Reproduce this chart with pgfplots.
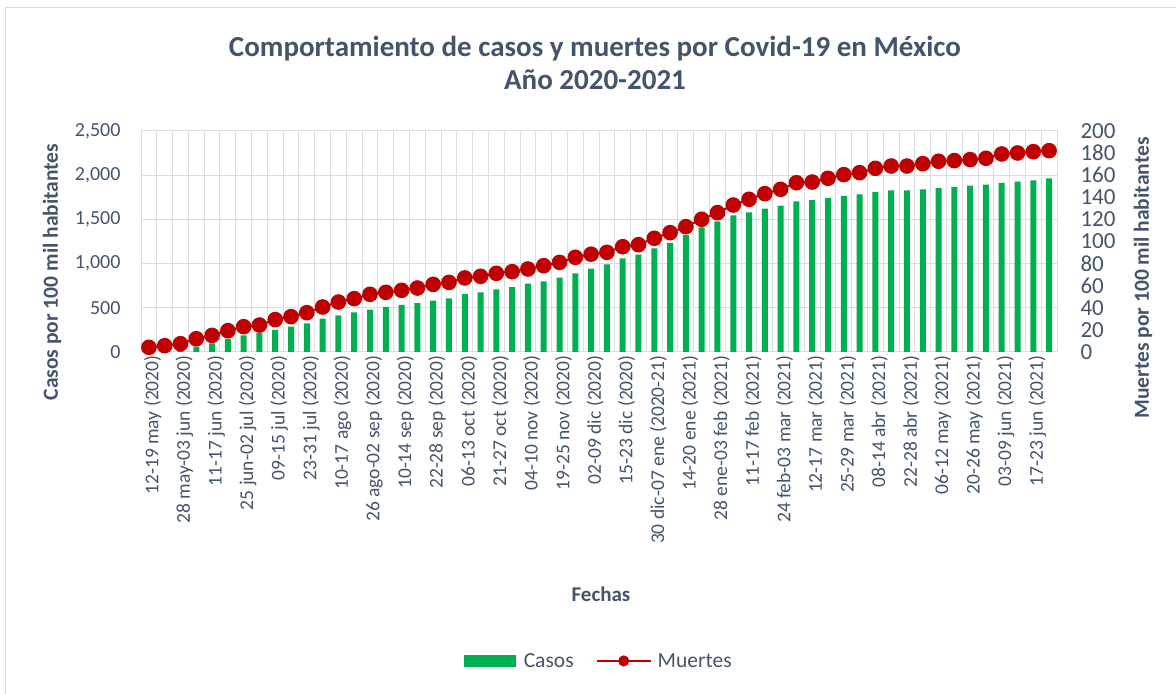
\documentclass[border=0pt]{standalone}
\usepackage{pgfplots}
\usepackage{pgfplotstable}
\pgfplotsset{compat=1.18}
\usepackage{fontspec}
\setmainfont{Carlito}
\definecolor{txt}{HTML}{44546A}
\definecolor{grn}{HTML}{00B050}
\definecolor{dred}{HTML}{C00000}
\definecolor{grd}{HTML}{D9DDE4}
\definecolor{frm}{HTML}{D9D9D9}

\pgfplotstableread{
i c d
0 15 4.2
1 30 5.7
2 45 7.5
3 60 12
4 98 15
5 147 19.3
6 189 22.9
7 215 24.4
8 249 29.3
9 287 32
10 324 35.6
11 377 40.7
12 415 45.2
13 449 48.3
14 479 52.2
15 509 54
16 532 55.8
17 554 57.9
18 581 61.2
19 607 63
20 656 67
21 675 68.5
22 709 71.2
23 735 72.7
24 773 75.1
25 799 78.1
26 841 81.1
27 890 85.7
28 943 88.5
29 992 90.2
30 1060 95.3
31 1101 97.1
32 1173 102.9
33 1233 108
34 1324 113.4
35 1410 120.1
36 1478 126.1
37 1546 133
38 1580 138.2
39 1621 143.3
40 1655 147.2
41 1704 153.2
42 1719 153.8
43 1742 157.2
44 1765 160.5
45 1784 162.3
46 1810 166.2
47 1829 168.3
48 1829 168.3
49 1840 170.4
50 1855 172.6
51 1867 173.2
52 1882 174.1
53 1893 175.3
54 1912 179.2
55 1927 180.1
56 1942 181.3
57 1965 182.2
}\data

\begin{document}
\begin{tikzpicture}[x=1bp,y=1bp]
\path[use as bounding box] (0,0) rectangle (1176,694);
\draw[frm, line width=1bp] (5,-2) rectangle (1185,686);

\begin{axis}[
  at={(141bp,342bp)}, anchor=south west, scale only axis,
  width=916bp, height=221bp,
  xmin=-0.5, xmax=57.5, ymin=0, ymax=2500,
  ytick={0,500,...,2500},
  xtick={0,2,...,56},
  xticklabels={12-19 may (2020),28 may-03 jun (2020),11-17 jun (2020),25 jun-02 jul (2020),09-15 jul (2020),23-31 jul (2020),10-17 ago (2020),26 ago-02 sep (2020),10-14 sep (2020),22-28 sep (2020),06-13 oct (2020),21-27 oct (2020),04-10 nov (2020),19-25 nov (2020),02-09 dic (2020),15-23 dic (2020),30 dic-07 ene (2020-21),14-20 ene (2021),28 ene-03 feb (2021),11-17 feb (2021),24 feb-03 mar (2021),12-17 mar (2021),25-29 mar (2021),08-14 abr (2021),22-28 abr (2021),06-12 may (2021),20-26 may (2021),03-09 jun (2021),17-23 jun (2021)},
  minor xtick={-0.5,0.5,...,57.5},
  xminorgrids=true, ymajorgrids=true, xmajorgrids=false,
  grid style={grd, line width=1bp},
  minor grid style={grd, line width=1bp},
  axis line style={grd, line width=1bp},
  major tick length=0pt, minor tick length=0pt,
  /pgf/number format/assume math mode=true,
  /pgf/number format/.cd, 1000 sep={,}, /pgfplots/.cd,
  yticklabel style={font=\fontsize{20bp}{22bp}\selectfont, text=txt, xshift=-17bp},
  xticklabel style={font=\fontsize{19.5bp}{22bp}\selectfont, text=txt, rotate=90, anchor=east, yshift=-4bp},
  tick label style={text=txt},
]
\addplot[ybar, bar width=6bp, fill=grn, draw=none] table[x=i, y=c]{\data};
\end{axis}

\begin{axis}[
  at={(141bp,342bp)}, anchor=south west, scale only axis,
  width=916bp, height=221bp,
  xmin=-0.5, xmax=57.5, ymin=0, ymax=200,
  ytick={0,20,...,200},
  axis y line*=right, axis x line=none,
  axis line style={draw=none},
  major tick length=0pt,
  /pgf/number format/assume math mode=true,
  yticklabel style={font=\fontsize{23bp}{26bp}\selectfont, text=txt, anchor=west, xshift=20bp},
  legend style={at={(0.5,-1.398)}, anchor=center, draw=none, fill=none,
    font=\fontsize{21.5bp}{24bp}\selectfont, text=txt, legend columns=2,
    /tikz/every even column/.append style={column sep=20bp},
    inner sep=0pt},
  legend cell align=left,
]
\addlegendimage{legend image code/.code={\fill[grn] (0bp,-5.5bp) rectangle (51bp,5.5bp); \path (57bp,0bp);}}
\addlegendentry{Casos}
\addplot[dred, line width=2bp, mark=*, mark size=6.8bp, mark options={fill=dred, draw=dred},
  legend image code/.code={\draw[dred, line width=2bp] (0bp,0bp) -- (54bp,0bp); \fill[dred] (27bp,0bp) circle (4.5bp); \path (58bp,0bp);}]
  table[x=i, y=d]{\data};
\addlegendentry{Muertes}
\end{axis}

\node[text=txt, font=\bfseries\fontsize{29bp}{33bp}\selectfont, align=center] at (595,631) {Comportamiento de casos y muertes por Covid-19 en México\\Año 2020-2021};
\node[text=txt, font=\bfseries\fontsize{21.5bp}{24bp}\selectfont, rotate=90] at (52,422) {Casos por 100 mil habitantes};
\node[text=txt, font=\bfseries\fontsize{21.5bp}{24bp}\selectfont, rotate=90] at (1143,416) {Muertes por 100 mil habitantes};
\node[text=txt, font=\bfseries\fontsize{21bp}{24bp}\selectfont] at (601,100) {Fechas};
\end{tikzpicture}
\end{document}
